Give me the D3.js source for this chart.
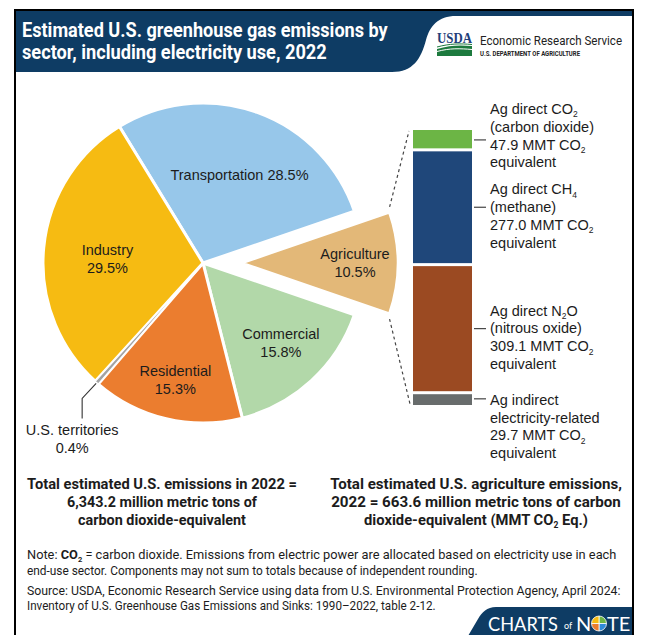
<!DOCTYPE html>
<html><head><meta charset="utf-8">
<script src="https://cdn.jsdelivr.net/npm/d3@7"></script>
<style>body{margin:0;background:#fff}svg{display:block}</style>
</head><body>
<svg id="c" width="652" height="635"></svg>
<script>
// ---------------- DATA ----------------
const sectors = ["Transportation", "Agriculture", "Commercial", "Residential", "U.S. territories", "Industry"];
const sectorShares = [28.5, 10.5, 15.8, 15.3, 0.4, 29.5];
const sectorColors = ["#97c7ea", "#e3b878", "#b2d8a9", "#eb7d2f", "#a3a3a3", "#f6bb12"];

const agNames = ["Ag direct CO_2", "Ag direct CH_4", "Ag direct N_2O", "Ag indirect"];
const agDescriptions = ["(carbon dioxide)", "(methane)", "(nitrous oxide)", "electricity-related"];
const agValues = [47.9, 277.0, 309.1, 29.7];
const agColors = ["#6cb545", "#1f477a", "#9b4a22", "#686c6c"];

const totalUS = "6,343.2";
const totalAg = "663.6";

// ---------------- SETUP ----------------
const svg = d3.select("#c");
const SANS = "'Liberation Sans', Arial, Helvetica, sans-serif";
const NARROW = "'Liberation Sans Narrow', Roboto, 'Liberation Sans', sans-serif";
const INK = "#1c1c1c";

function rich(sel, str, subSize, shift) {
  const parts = str.split(/(_\d)/);
  let pending = 0;
  parts.forEach(p => {
    if (!p) return;
    if (p[0] === "_") {
      sel.append("tspan").attr("font-size", subSize).attr("dy", shift).text(p.slice(1));
      pending = -shift;
    } else {
      const t = sel.append("tspan").text(p);
      if (pending) { t.attr("dy", pending); pending = 0; }
    }
  });
  return sel;
}
// horizontally condense a centred text to a target width with a transform
function condensed(x, y, width, str, opts) {
  const g = svg.append("g");
  const t = g.append("text").attr("x", 0).attr("y", 0).attr("text-anchor", opts.anchor || "middle")
    .attr("font-family", opts.family).attr("font-weight", opts.weight || "normal")
    .attr("font-size", opts.size).attr("fill", opts.fill || INK);
  rich(t, str, opts.sub || opts.size * 0.6, opts.shift || 3);
  const nat = t.node().getComputedTextLength();
  const k = Math.min(1, width / nat);
  g.attr("transform", `translate(${x},${y}) scale(${k},1)`);
  return t;
}

// ---------------- FRAME & HEADER ----------------
svg.append("rect").attr("x", 15).attr("y", 10).attr("width", 618).attr("height", 660)
  .attr("fill", "#fff").attr("stroke", "#000").attr("stroke-width", 2);

svg.append("path")
  .attr("d", "M16,11 H632 V16 H456 C438,16 430,26 426,40 C421,59 413,72 392,72 H16 Z")
  .attr("fill", "#0e3c64");

const title = ["Estimated U.S. greenhouse gas emissions by", "sector, including electricity use, 2022"];
const titleW = [366, 305];
title.forEach((t, i) => {
  condensed(22, 37 + i * 22, titleW[i], t, { anchor: "start", family: NARROW, weight: "bold", size: 20.5, fill: "#fff" });
});

// USDA logo
svg.append("text").attr("x", 437).attr("y", 43).attr("font-family", "'Liberation Serif', serif")
  .attr("font-weight", "bold").attr("font-size", 15).attr("fill", "#1f3f7a")
  .attr("textLength", 35).attr("lengthAdjust", "spacingAndGlyphs").text("USDA");
svg.append("path").attr("d", "M437,49 C450,45 460,45 472,46 L472,56 L437,56 Z").attr("fill", "#1d7a3e");
svg.append("path").attr("d", "M437,51.5 C450,48 460,48.5 472,49.5").attr("fill", "none").attr("stroke", "#fff").attr("stroke-width", 1);
svg.append("path").attr("d", "M437,47 C450,43.5 460,43.5 472,44.5").attr("fill", "none").attr("stroke", "#1d7a3e").attr("stroke-width", 1);
svg.append("text").attr("x", 480).attr("y", 45).attr("font-family", "Roboto, sans-serif")
  .attr("font-size", 13.5).attr("fill", "#222").attr("textLength", 142).attr("lengthAdjust", "spacingAndGlyphs")
  .text("Economic Research Service");
svg.append("text").attr("x", 480).attr("y", 56).attr("font-family", "Roboto, sans-serif")
  .attr("font-weight", "bold").attr("font-size", 7).attr("fill", "#222").attr("textLength", 100)
  .attr("lengthAdjust", "spacingAndGlyphs").text("U.S. DEPARTMENT OF AGRICULTURE");

// ---------------- PIE ----------------
const cx = 203, cy = 263, R = 160, explode = 38;
const start = -31.5 * Math.PI / 180;
const sectorData = sectors.map((s, i) => ({ name: s, share: sectorShares[i], color: sectorColors[i] }));
const pie = d3.pie().sort(null).value(d => d.share).startAngle(start).endAngle(start + 2 * Math.PI);
const arcs = pie(sectorData);
const arc = d3.arc().innerRadius(0).outerRadius(R);
const arcAg = d3.arc().innerRadius(0).outerRadius(157);
const mid = a => (a.startAngle + a.endAngle) / 2;

const gPie = svg.append("g").attr("transform", `translate(${cx},${cy})`);
const offsetOf = a => a.data.name === "Agriculture" ? [Math.sin(mid(a)) * explode, -Math.cos(mid(a)) * explode] : [0, 0];

const order = arcs.filter(a => a.data.name !== "U.S. territories").concat(arcs.filter(a => a.data.name === "U.S. territories"));
gPie.selectAll("path.slice").data(order).join("path")
  .attr("class", "slice")
  .attr("transform", a => `translate(${offsetOf(a)})`)
  .attr("d", a => a.data.name === "Agriculture" ? arcAg(a) : arc(a))
  .attr("fill", a => a.data.color)
  .attr("stroke", "#fff")
  .attr("stroke-linejoin", "round")
  .attr("stroke-width", a => a.data.name === "U.S. territories" ? 1.2 : 3);

// slice labels
const labelLayout = {
  "Transportation": { r: 96, dx: 4, dy: 2, single: true },
  "Agriculture": { r: 114, dx: 0, dy: 0 },
  "Commercial": { r: 112, dx: 2, dy: -2 },
  "Residential": { r: 120, dx: 0, dy: 0 },
  "Industry": { r: 96, dx: 0, dy: 5 }
};
arcs.forEach(a => {
  const L = labelLayout[a.data.name];
  if (!L) return;
  const [ox, oy] = offsetOf(a);
  const x = ox + Math.sin(mid(a)) * L.r + L.dx;
  const y = oy - Math.cos(mid(a)) * L.r + L.dy;
  const lines = L.single ? [`${a.data.name} ${a.data.share}%`] : [a.data.name, `${a.data.share}%`];
  lines.forEach((t, i) => {
    gPie.append("text").attr("x", x).attr("y", y + (i - (lines.length - 1) / 2) * 18 + 5)
      .attr("text-anchor", "middle").attr("font-family", SANS).attr("font-size", 14.5)
      .attr("fill", INK).text(t);
  });
});

// territories leader
const terr = arcs.find(a => a.data.name === "U.S. territories");
const tp = [Math.sin(mid(terr)) * (R + 1), -Math.cos(mid(terr)) * (R + 1)];
gPie.append("path")
  .attr("d", `M${tp[0]},${tp[1]} L${tp[0] - 14},${tp[1] + 15} L${tp[0] - 14},${tp[1] + 35}`)
  .attr("fill", "none").attr("stroke", "#333").attr("stroke-width", 1.1);
[`${terr.data.name}`, `${terr.data.share}%`].forEach((t, i) => {
  gPie.append("text").attr("x", tp[0] - 24).attr("y", tp[1] + 52 + i * 18)
    .attr("text-anchor", "middle").attr("font-family", SANS).attr("font-size", 14.5)
    .attr("fill", INK).text(t);
});

// ---------------- STACKED BAR ----------------
const barX = 413, barW = 59;
const total = d3.sum(agValues);
const y = d3.scaleLinear().domain([0, total]).range([130, 405]);
let cum = 0;
const agData = agValues.map((v, i) => { const d = { i, v, y0: cum, y1: cum + v }; cum += v; return d; });

svg.selectAll("rect.ag").data(agData).join("rect")
  .attr("class", "ag")
  .attr("x", barX).attr("width", barW)
  .attr("y", d => y(d.y0) + (d.i === 0 ? 0 : 1.5))
  .attr("height", d => y(d.y1) - y(d.y0) - (d.i === 0 ? 1.5 : 3) + (d.i === agData.length - 1 ? 1.5 : 0))
  .attr("fill", d => agColors[d.i]);

// dashed connectors
const ag = arcs.find(a => a.data.name === "Agriculture");
const [aox, aoy] = offsetOf(ag);
const c0 = [cx + aox + Math.sin(ag.startAngle) * 158, cy + aoy - Math.cos(ag.startAngle) * 158];
const c1 = [cx + aox + Math.sin(ag.endAngle) * 158, cy + aoy - Math.cos(ag.endAngle) * 158];
[[c0, [barX - 4, y(0) + 1]], [c1, [barX - 3, y(total) - 1]]].forEach(([p, q]) => {
  const dx = q[0] - p[0], dy = q[1] - p[1], len = Math.hypot(dx, dy);
  const s = [p[0] + dx / len * 5, p[1] + dy / len * 5];
  svg.append("line").attr("x1", s[0] - 2).attr("y1", s[1]).attr("x2", q[0]).attr("y2", q[1])
    .attr("stroke", "#444").attr("stroke-width", 1.2).attr("stroke-dasharray", "3,3");
});

// ticks & labels
const firstLineOffset = [-26, -13, -13, 6];
const fmt = d3.format(".1f");
agData.forEach(d => {
  const my = (y(d.y0) + y(d.y1)) / 2;
  svg.append("line").attr("x1", barX + barW + 2).attr("x2", barX + barW + 14)
    .attr("y1", my).attr("y2", my).attr("stroke", "#333").attr("stroke-width", 1.1);
  const lines = [agNames[d.i], agDescriptions[d.i], `${fmt(d.v)} MMT CO_2`, "equivalent"];
  lines.forEach((t, k) => {
    const tx = svg.append("text").attr("x", 490).attr("y", my + firstLineOffset[d.i] + k * 17.8)
      .attr("font-family", SANS).attr("font-size", 14.5).attr("fill", INK);
    rich(tx, t, 8.5, 3.5);
  });
});

// ---------------- TOTALS ----------------
const leftTot = ["Total estimated U.S. emissions in 2022 =", `${totalUS} million metric tons of`, "carbon dioxide-equivalent"];
const leftW = [270, 190, 168];
leftTot.forEach((t, i) => {
  condensed(162, 489 + i * 18, leftW[i], t, { family: NARROW, weight: "bold", size: 15.5 });
});
const rightTot = ["Total estimated U.S. agriculture emissions,", `2022 = ${totalAg} million metric tons of carbon`, "dioxide-equivalent (MMT CO_2 Eq.)"];
const rightW = [292, 290, 224];
rightTot.forEach((t, i) => {
  condensed(476, 489 + i * 18, rightW[i], t, { family: NARROW, weight: "bold", size: 15.5, sub: 9, shift: 3 });
});

// ---------------- NOTES ----------------
const noteOpts = { anchor: "start", family: NARROW, size: 12.8, sub: 7.5, shift: 2.5 };
const n1 = condensed(27, 559, 592, "Note: ", noteOpts);
n1.append("tspan").attr("font-weight", "bold").text("CO");
n1.append("tspan").attr("font-weight", "bold").attr("font-size", 7.5).attr("dy", 2.5).text("2");
n1.append("tspan").attr("dy", -2.5).text(" = carbon dioxide. Emissions from electric power are allocated based on electricity use in each");
{
  const g = d3.select(n1.node().parentNode);
  const nat = n1.node().getComputedTextLength();
  g.attr("transform", `translate(27,559) scale(${Math.min(1, 592 / nat)},1)`);
}
const noteLines = [
  { t: "end-use sector. Components may not sum to totals because of independent rounding.", y: 575, w: 451 },
  { t: "Source: USDA, Economic Research Service using data from U.S. Environmental Protection Agency, April 2024:", y: 595, w: 594 },
  { t: "Inventory of U.S. Greenhouse Gas Emissions and Sinks: 1990\u20132022, table 2-12.", y: 610, w: 409 }
];
noteLines.forEach(n => condensed(27, n.y, n.w, n.t, noteOpts));

// ---------------- CHARTS OF NOTE BADGE ----------------
svg.append("path").attr("d", "M632,636 V607 H496 C487,607 482,612 478,619 L468,636 Z").attr("fill", "#0e3c64");
const badgeFont = "Lato, 'Open Sans', sans-serif";
condensed(488, 631, 70, "CHARTS", { anchor: "start", family: badgeFont, size: 20, fill: "#fff" });
svg.append("text").attr("x", 564).attr("y", 629).attr("font-family", badgeFont).attr("font-size", 9)
  .attr("fill", "#fff").text("of");
svg.append("text").attr("x", 576).attr("y", 631).attr("font-family", badgeFont).attr("font-size", 20)
  .attr("fill", "#fff").text("N");
const logoPie = d3.pie().sort(null)([1, 1, 1, 1]);
const logoCols = ["#6cb545", "#2e8ad8", "#eb7d2f", "#f6bb12"];
const gl = svg.append("g").attr("transform", "translate(599,623.5)");
gl.selectAll("path").data(logoPie).join("path")
  .attr("d", d3.arc().innerRadius(0).outerRadius(7.5)).attr("fill", (d, i) => logoCols[i])
  .attr("stroke", "#fff").attr("stroke-width", 0.8);
svg.append("text").attr("x", 607).attr("y", 631).attr("font-family", badgeFont).attr("font-size", 20)
  .attr("fill", "#fff").text("TE");
</script>
</body></html>
